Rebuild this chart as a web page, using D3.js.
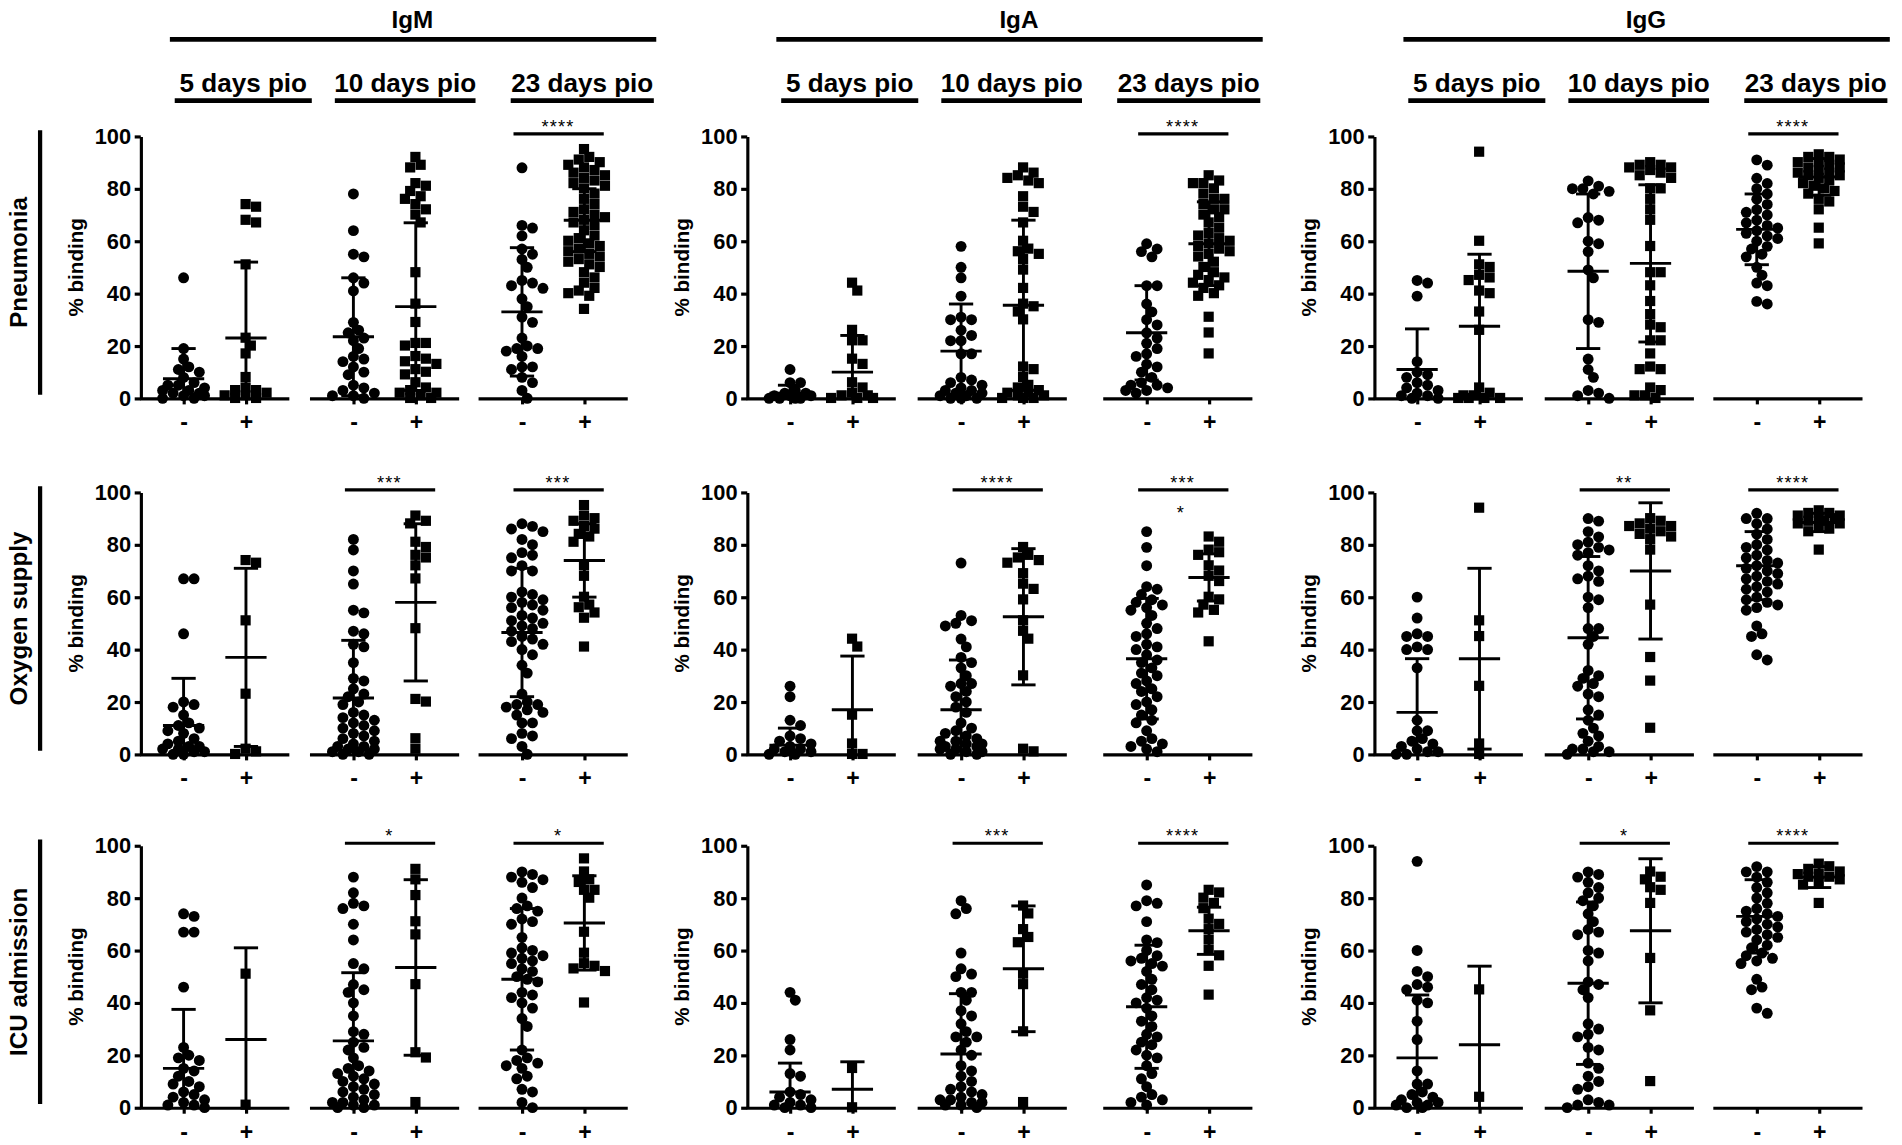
<!DOCTYPE html>
<html>
<head>
<meta charset="utf-8">
<script src="https://cdn.jsdelivr.net/npm/d3@7"></script>
<style>
body { margin: 0; background: #fff; }
text { font-family: "Liberation Sans", Arial, sans-serif; font-weight: bold; fill: #000; }
</style>
</head>
<body>
<svg id="chart"></svg>
<script>
// ---- data (% binding) ----
var antibodies = ["IgM", "IgA", "IgG"];
var outcomes = ["Pneumonia", "Oxygen supply", "ICU admission"];
var timepoints = ["5 days pio", "10 days pio", "23 days pio"];
var groupLabels = ["-", "+"];
var yTicks = [0, 20, 40, 60, 80, 100];

// each panel: 6 columns -> 5d -, 5d +, 10d -, 10d +, 23d -, 23d +
var pneumoniaIgM = [
  [46, 19, 15, 12, 11, 10, 8, 6, 5, 5, 4, 3, 3, 2, 2, 1, 1, 0, 0],
  [74, 73, 68, 67, 51, 23, 20, 17, 8, 4, 3, 3, 2, 1, 1, 0, 0],
  [78, 64, 55, 54, 46, 44, 41, 29, 26, 25, 23, 22, 19, 16, 15, 14, 12, 10, 9, 5, 4, 3, 2, 1, 1, 0],
  [92, 89, 88, 82, 81, 79, 77, 76, 74, 72, 70, 67, 48, 36, 29, 21, 21, 20, 16, 15, 14, 13, 11, 10, 9, 6, 4, 3, 2, 2, 1, 0, 0],
  [88, 66, 65, 62, 57, 55, 53, 50, 45, 44, 43, 42, 38, 35, 31, 29, 23, 20, 19, 19, 18, 16, 12, 12, 11, 8, 6, 3, 0],
  [95, 92, 91, 90, 89, 88, 87, 86, 85, 84, 83, 82, 81, 80, 78, 76, 74, 72, 71, 70, 69, 68, 67, 66, 64, 62, 61, 60, 59, 58, 57, 56, 55, 54, 53, 52, 51, 50, 48, 46, 44, 42, 41, 40, 39, 34]
];
var pneumoniaIgA = [
  [11, 6, 6, 3, 2, 2, 1, 1, 1, 0, 0, 0, 0],
  [44, 41, 26, 22, 22, 15, 13, 6, 4, 2, 1, 1, 0, 0, 0],
  [58, 50, 46, 39, 31, 30, 30, 26, 24, 22, 22, 17, 17, 8, 7, 6, 5, 4, 3, 3, 2, 2, 1, 1, 0, 0, 0],
  [88, 86, 85, 84, 83, 82, 77, 73, 71, 67, 60, 57, 56, 55, 53, 49, 42, 36, 35, 33, 30, 12, 11, 8, 5, 4, 3, 2, 2, 1, 1, 0, 0, 0],
  [59, 57, 56, 54, 43, 43, 36, 33, 30, 28, 25, 23, 21, 19, 17, 16, 13, 12, 10, 8, 6, 5, 5, 4, 3, 3, 2],
  [85, 83, 82, 82, 80, 78, 76, 76, 74, 72, 72, 70, 69, 67, 65, 63, 62, 61, 60, 59, 58, 57, 56, 55, 54, 52, 50, 48, 47, 46, 45, 44, 43, 42, 40, 39, 31, 25, 17]
];
var pneumoniaIgG = [
  [45, 44, 39, 14, 10, 9, 8, 6, 5, 4, 3, 2, 1, 1, 0, 0],
  [94, 60, 51, 50, 47, 46, 45, 41, 40, 33, 26, 4, 2, 1, 1, 0, 0, 0, 0],
  [83, 81, 80, 80, 79, 78, 69, 68, 67, 60, 59, 56, 49, 46, 30, 29, 15, 11, 8, 3, 2, 1, 0],
  [90, 89, 89, 88, 88, 87, 86, 85, 84, 80, 80, 76, 72, 68, 58, 48, 48, 43, 37, 32, 28, 27, 22, 22, 17, 12, 11, 11, 4, 3, 1, 1, 0],
  [91, 89, 84, 82, 80, 78, 76, 74, 72, 71, 70, 68, 67, 66, 65, 64, 63, 62, 61, 60, 58, 57, 55, 54, 50, 47, 44, 43, 37, 36],
  [93, 92, 92, 91, 90, 90, 89, 88, 88, 87, 86, 86, 85, 85, 84, 83, 82, 81, 80, 79, 78, 76, 75, 72, 65, 59]
];
var oxygenIgM = [
  [67, 67, 46, 20, 19, 18, 15, 12, 11, 10, 9, 8, 6, 5, 4, 3, 3, 2, 2, 1, 1, 0, 0],
  [74, 73, 51, 23, 2, 1, 0],
  [82, 78, 70, 65, 55, 54, 47, 46, 42, 41, 35, 29, 28, 25, 23, 22, 20, 19, 16, 15, 14, 13, 12, 11, 10, 9, 8, 7, 6, 5, 4, 3, 3, 2, 2, 1, 1, 0, 0],
  [91, 89, 88, 81, 79, 76, 75, 72, 67, 48, 21, 20, 6, 2],
  [88, 87, 86, 85, 82, 80, 77, 76, 75, 72, 70, 70, 62, 61, 60, 59, 58, 57, 56, 55, 53, 52, 51, 50, 49, 48, 47, 45, 44, 43, 42, 40, 38, 34, 31, 23, 20, 19, 19, 18, 17, 16, 15, 12, 12, 8, 7, 6, 3, 0],
  [95, 91, 90, 89, 87, 86, 84, 83, 81, 72, 68, 60, 57, 56, 54, 52, 41]
];
var oxygenIgA = [
  [26, 22, 13, 11, 7, 6, 5, 4, 3, 2, 2, 1, 1, 0, 0],
  [44, 41, 15, 4, 0, 0],
  [73, 53, 51, 50, 49, 44, 41, 37, 35, 33, 30, 27, 27, 26, 24, 22, 20, 18, 16, 12, 10, 9, 8, 7, 6, 5, 5, 4, 4, 3, 3, 2, 2, 1, 1, 0, 0],
  [79, 76, 75, 74, 73, 69, 65, 63, 59, 51, 47, 44, 30, 2, 1],
  [85, 79, 72, 64, 63, 61, 59, 58, 57, 56, 55, 53, 50, 48, 46, 45, 42, 41, 40, 38, 36, 35, 33, 31, 30, 28, 27, 25, 24, 22, 20, 19, 17, 15, 13, 12, 9, 6, 5, 4, 3, 2, 1],
  [83, 81, 78, 77, 76, 72, 70, 68, 66, 60, 59, 57, 55, 54, 43]
];
var oxygenIgG = [
  [60, 52, 46, 45, 45, 41, 40, 40, 33, 13, 9, 9, 6, 5, 4, 3, 2, 1, 1, 0, 0],
  [94, 51, 45, 26, 4, 0],
  [90, 89, 85, 83, 81, 80, 79, 78, 77, 76, 72, 70, 68, 67, 66, 60, 59, 56, 48, 48, 45, 42, 32, 30, 29, 27, 26, 23, 22, 17, 15, 13, 10, 8, 7, 5, 3, 2, 2, 1, 1, 0],
  [90, 89, 88, 87, 87, 86, 85, 84, 83, 82, 78, 57, 37, 28, 10],
  [92, 90, 90, 88, 86, 84, 82, 80, 79, 78, 76, 75, 74, 73, 72, 71, 70, 69, 68, 67, 66, 65, 64, 63, 62, 60, 59, 58, 57, 56, 55, 49, 46, 45, 38, 36],
  [93, 92, 92, 91, 91, 90, 90, 89, 89, 88, 88, 87, 86, 85, 78]
];
var icuIgM = [
  [74, 73, 67, 67, 46, 23, 20, 19, 18, 15, 14, 12, 10, 9, 8, 6, 5, 4, 3, 2, 1, 1, 0],
  [51, 1],
  [88, 82, 78, 77, 76, 70, 64, 55, 53, 47, 45, 44, 40, 35, 29, 28, 25, 23, 22, 19, 16, 15, 14, 13, 12, 11, 10, 9, 8, 7, 6, 5, 4, 3, 2, 2, 1, 1, 0, 0],
  [91, 87, 81, 71, 66, 47, 21, 19, 2],
  [90, 89, 88, 87, 86, 84, 80, 77, 76, 75, 72, 71, 70, 65, 61, 60, 59, 58, 57, 56, 55, 53, 52, 50, 49, 48, 44, 43, 42, 40, 38, 34, 31, 22, 19, 18, 17, 16, 15, 12, 11, 7, 6, 2, 0],
  [95, 90, 87, 86, 83, 83, 80, 67, 59, 55, 54, 53, 52, 40]
];
var icuIgA = [
  [44, 41, 26, 22, 13, 12, 6, 5, 4, 3, 2, 1, 1, 0, 0],
  [15, 0],
  [79, 76, 74, 59, 53, 51, 50, 44, 44, 41, 37, 35, 32, 29, 27, 27, 25, 22, 20, 16, 14, 12, 10, 8, 7, 6, 5, 4, 3, 3, 2, 2, 1, 1, 0],
  [77, 74, 68, 65, 63, 51, 47, 29, 2],
  [85, 79, 78, 77, 71, 64, 63, 60, 58, 57, 56, 55, 54, 52, 49, 47, 45, 42, 41, 40, 38, 35, 33, 31, 28, 27, 25, 24, 22, 20, 19, 16, 13, 11, 8, 5, 4, 3, 2, 1],
  [83, 82, 80, 78, 76, 72, 70, 68, 64, 60, 58, 54, 43]
];
var icuIgG = [
  [94, 60, 52, 50, 47, 46, 45, 41, 40, 33, 26, 14, 9, 9, 6, 5, 4, 3, 2, 2, 1, 1, 0, 0],
  [45, 4],
  [90, 89, 88, 86, 84, 82, 80, 79, 77, 74, 71, 68, 67, 66, 60, 59, 56, 48, 47, 45, 42, 32, 30, 28, 27, 23, 22, 17, 15, 12, 10, 8, 7, 3, 2, 1, 1, 0],
  [90, 88, 87, 84, 83, 78, 57, 37, 10],
  [92, 90, 90, 88, 86, 84, 82, 80, 78, 76, 75, 74, 73, 72, 71, 70, 69, 68, 67, 66, 65, 64, 62, 61, 59, 58, 57, 56, 55, 49, 46, 45, 38, 36],
  [93, 92, 91, 90, 89, 89, 88, 88, 87, 86, 85, 78]
];

// mean and SD drawn in the figure, [outcome][antibody][column]
var meanValues = [
  [[7.5, 23, 23.5, 35, 33, 68], [2, 10, 18, 35.5, 25, 59], [11, 27.5, 48.5, 51.5, 64.5, 84.5]],
  [[11, 37, 21.5, 58, 46.5, 74], [3.5, 17, 17, 52.5, 36.5, 67.5], [16, 36.5, 44.5, 70, 72, 88.5]],
  [[15, 26, 25.5, 53.5, 49, 70.5], [6, 7, 20.5, 53, 38.5, 67.5], [19, 24, 47.5, 67.5, 73, 88]]
];
var sdValues = [
  [[11.5, 29, 22.5, 32, 24.5, 12], [3, 14, 18, 32.5, 18, 16], [15.5, 27.5, 29.5, 30, 13.5, 7]],
  [[18, 34, 22, 30, 24.5, 14], [6.5, 20.5, 19, 26, 23, 9], [20.5, 34.5, 31, 26, 13, 3.5]],
  [[22.5, 35, 26, 33.5, 27, 18], [11, 10.5, 23, 24, 23.5, 9], [24, 30, 31, 27.5, 14, 4]]
];
// significance per timepoint, [outcome][antibody][timepoint]
var stars = [
  [["", "", "****"], ["", "", "****"], ["", "", "****"]],
  [["", "***", "***"], ["", "****", "***"], ["", "**", "****"]],
  [["", "*", "*"], ["", "***", "****"], ["", "*", "****"]]
];
var panelPoints = [
  [pneumoniaIgM, pneumoniaIgA, pneumoniaIgG],
  [oxygenIgM, oxygenIgA, oxygenIgG],
  [icuIgM, icuIgA, icuIgG]
];

// ---- layout ----
var W = 1568, H = 944;
var svg = d3.select("#chart")
  .attr("width", 1902).attr("height", 1145)
  .attr("viewBox", "0 0 " + W + " " + H);
svg.append("rect").attr("width", W).attr("height", H).attr("fill", "#fff");

var axisX = [116, 616, 1133];
var rowBase = [328.4, 621.9, 913.2];
var rowH = 216;
var groupStart = [[0, 140, 279], [0, 141, 294], [0, 141, 280]];
var subLine = [[28, 141], [160, 276], [305, 423]];
var diam = 9;

// GraphPad-like scatter: spread equal values sideways, but keep the column narrow
function swarm(values, y) {
  var placed = [];
  var pts = values.map(function(v) { return { v: v, y: y(v) }; })
    .sort(function(a, b) { return b.v - a.v; });
  pts.forEach(function(p) {
    var best = 0, bestD = -1;
    for (var k = 0; k < 9; k++) {
      var off = k === 0 ? 0 : (k % 2 ? 1 : -1) * Math.ceil(k / 2) * diam * 0.48;
      var dmin = d3.min(placed, function(q) { return Math.hypot(q.x - off, q.y - p.y); });
      if (dmin === undefined) dmin = 99;
      if (dmin >= diam * 0.8) { best = off; bestD = dmin; break; }
      if (dmin > bestD) { bestD = dmin; best = off; }
    }
    p.dx = best;
    placed.push({ x: best, y: p.y });
  });
  return pts;
}

// column headers
antibodies.forEach(function(ab, c) {
  var x0 = axisX[c];
  svg.append("line").attr("x1", x0 + 24).attr("x2", x0 + 425)
    .attr("y1", 32.5).attr("y2", 32.5).attr("stroke", "#000").attr("stroke-width", 4);
  svg.append("text").attr("x", x0 + 224).attr("y", 23).attr("text-anchor", "middle")
    .style("font-size", "20px").text(ab);
  timepoints.forEach(function(tp, g) {
    svg.append("line").attr("x1", x0 + subLine[g][0]).attr("x2", x0 + subLine[g][1])
      .attr("y1", 83).attr("y2", 83).attr("stroke", "#000").attr("stroke-width", 4);
    svg.append("text").attr("x", x0 + (subLine[g][0] + subLine[g][1]) / 2).attr("y", 76)
      .attr("text-anchor", "middle").style("font-size", "21.5px").text(tp);
  });
});

// row labels
outcomes.forEach(function(lab, r) {
  var top = rowBase[r] - rowH - 5, bot = rowBase[r] - 3;
  svg.append("line").attr("x1", 33).attr("x2", 33).attr("y1", top).attr("y2", bot)
    .attr("stroke", "#000").attr("stroke-width", 3.5);
  svg.append("text").attr("transform", "translate(22," + ((top + bot) / 2) + ") rotate(-90)")
    .attr("text-anchor", "middle").style("font-size", "20px").text(lab);
});

// panels
outcomes.forEach(function(o, r) {
  var y = d3.scaleLinear().domain([0, 100]).range([rowBase[r], rowBase[r] - rowH]);
  antibodies.forEach(function(ab, c) {
    var x0 = axisX[c];
    var panel = svg.append("g");

    var yAxis = panel.append("g").attr("transform", "translate(" + x0 + ",0)")
      .call(d3.axisLeft(y).tickValues(yTicks).tickSize(5).tickSizeOuter(0).tickPadding(3));
    yAxis.selectAll("path,line").attr("stroke", "#000").attr("stroke-width", 2.6);
    yAxis.selectAll("text").style("font-size", "18px")
      .style("font-family", "'Liberation Sans', Arial, sans-serif").style("font-weight", "bold");

    panel.append("text")
      .attr("transform", "translate(" + (x0 - 48) + "," + ((y(0) + y(100)) / 2) + ") rotate(-90)")
      .attr("text-anchor", "middle").style("font-size", "17px").text("% binding");

    timepoints.forEach(function(tp, g) {
      var gs = x0 + groupStart[c][g];
      var x = d3.scaleLinear().domain([-0.706, 1.686]).range([gs - 1, gs + 122]);
      var xAxis = panel.append("g").attr("transform", "translate(0," + y(0) + ")")
        .call(d3.axisBottom(x).tickValues([0, 1]).tickSize(5).tickSizeOuter(0).tickPadding(8)
          .tickFormat(function(i) { return groupLabels[i]; }));
      xAxis.selectAll("path,line").attr("stroke", "#000").attr("stroke-width", 2.6);
      xAxis.selectAll("text").style("font-size", "19px")
        .style("font-family", "'Liberation Sans', Arial, sans-serif").style("font-weight", "bold");

      [0, 1].forEach(function(s) {
        var col = g * 2 + s;
        var pts = swarm(panelPoints[r][c][col], y);
        var cx = x(s);
        if (s === 0) {
          panel.selectAll(null).data(pts).enter().append("circle")
            .attr("cx", function(d) { return cx + d.dx; })
            .attr("cy", function(d) { return d.y; })
            .attr("r", diam / 2).attr("fill", "#000");
        } else {
          panel.selectAll(null).data(pts).enter().append("rect")
            .attr("x", function(d) { return cx + d.dx - diam / 2; })
            .attr("y", function(d) { return d.y - diam / 2; })
            .attr("width", diam - 0.6).attr("height", diam - 0.6).attr("fill", "#000");
        }
        // mean +/- SD
        var m = meanValues[r][c][col], sd = sdValues[r][c][col];
        var lo = Math.max(0, m - sd), hi = m + sd;
        var eb = panel.append("g").attr("stroke", "#000").attr("stroke-width", 2.4);
        eb.append("line").attr("x1", cx).attr("x2", cx).attr("y1", y(lo)).attr("y2", y(hi));
        eb.append("line").attr("x1", cx - 17).attr("x2", cx + 17).attr("y1", y(m)).attr("y2", y(m));
        eb.append("line").attr("x1", cx - 10).attr("x2", cx + 10).attr("y1", y(hi)).attr("y2", y(hi));
        if (m - sd > 0) {
          eb.append("line").attr("x1", cx - 10).attr("x2", cx + 10).attr("y1", y(lo)).attr("y2", y(lo));
        }
      });

      var st = stars[r][c][g];
      if (st) {
        var by = y(100) - 2;
        panel.append("line").attr("x1", x(0) - 7).attr("x2", x(1) + 16)
          .attr("y1", by).attr("y2", by).attr("stroke", "#000").attr("stroke-width", 2.6);
        panel.append("text").attr("x", (x(0) + x(1)) / 2 + 4).attr("y", by - 1)
          .attr("text-anchor", "middle").style("font-size", "15px").style("font-weight", "normal")
          .style("letter-spacing", "1px").text(st);
      }
      // extra marker under the IgA oxygen 23-day bar
      if (r === 1 && c === 1 && g === 2) {
        panel.append("text").attr("x", (x(0) + x(1)) / 2 + 2).attr("y", y(90))
          .attr("text-anchor", "middle").style("font-size", "15px").style("font-weight", "normal")
          .text("*");
      }
    });
  });
});
</script>
</body>
</html>
